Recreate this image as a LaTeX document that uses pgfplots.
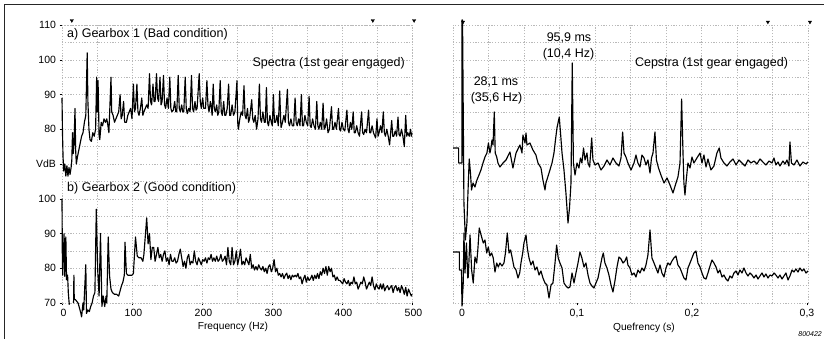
\documentclass[border=0pt]{standalone}
\usepackage{fontspec}
\setmainfont{Liberation Sans}
\usepackage{pgfplots}
\pgfplotsset{compat=1.18}

\tikzset{
  papergrid/.style={draw=gray!55, line width=0.35pt, dash pattern=on 1.2pt off 1.6pt},
}
\pgfplotsset{
  trace/.style={black, line width=1.15pt, line join=round, mark=none},
  cursor/.style={only marks, mark=triangle*, mark size=1.9pt,
                 mark options={rotate=180, fill=black, draw=black}},
  chartbase/.style={
    scale only axis, height=278pt, clip=false,
    axis line style={papergrid},
    major grid style={papergrid}, minor grid style={papergrid},
    tick align=outside, tick pos=left,
    major tick length=2.5pt, minor tick length=0pt,
    tick style={black, line width=0.4pt},
    ticklabel style={font=\fontsize{10.5}{12}\selectfont},
    /pgf/number format/assume math mode=true,
  },
}

\begin{document}
\begin{tikzpicture}[x=1pt,y=1pt]

% ---------------- Spectra ----------------
% The lower trace uses the printed scale 70..100 dB; the upper trace is
% drawn 40 dB higher so that its own scale reads 70..110 dB.
\begin{axis}[chartbase,
  at={(62pt,36pt)}, anchor=south west, width=350pt,
  xmin=0, xmax=500, ymin=70, ymax=150,
  xtick={0,100,...,500}, minor xtick={50,150,...,450},
  ytick={70,80,...,150},
  yticklabels={70,80,90,100,VdB,80,90,100,110},
  minor ytick={75,85,...,145},
  grid=both,
  xticklabel style={xshift=1.5pt},
]
% Gearbox 2 (good condition)
\addplot[trace] coordinates {
(0,100) (0.5,83) (1,78) (2,83.5) (3,90) (4,77.7) (5.5,89) (6.5,76.7) (8,78) (9,73) (10,70.5) (10.5,69.5)
};
\addplot[trace] coordinates {
(16.5,70) (17,78) (17.5,71) (19,71) (21,70.5) (23,70) (25,68.5) (27,67) (28,66) (30,70) (31,68) (34,81) (35,67)
(37,68) (39,67.5) (41,69) (43,70) (45,72) (47,73) (49,97) (51,79.5) (53,72) (55,90) (57,69) (59,72) (61,69)
(63,72) (64,70) (66,89) (68,77.7) (70,74) (72,73) (75,72.5) (78,72.5) (81,72) (85,75) (87,76) (89,78) (90,87.5)
(92,78.5) (94,78) (97,78) (100,78) (102,78.5) (105,89) (107.5,83.5) (110,83) (113,83) (115.5,82) (117,84)
(121,94.5) (123,87) (125,90) (127,82.5) (129,86) (131,86) (133,82) (135,84) (137,86) (139,83) (141,84) (143,82)
(145,84) (147,85) (149,82) (151,83) (153,81) (155,84) (157,82) (159,82) (161,83) (163,81.5) (165,82) (167,84)
(169,85.5) (171,83) (173,80.5) (175,82) (177,80) (179,83) (181,84) (183,81) (185,82) (187,81.5) (189,85) (191,82)
(193,81) (195,83) (197,82) (199,81) (201,82.5) (203,82) (205,83) (207,81.5) (209,83) (211,82.5) (213,84) (215,82)
(217,83) (219,82) (221,83.5) (223,82) (225,82.5) (227,84) (229,82) (231,82.5) (233,83.5) (235,81) (237,86) (239,82)
(241,81) (243,86) (245,81) (247,82) (249,85) (251,81) (253,83) (255,85.5) (257,81) (259,82) (261,81) (263,83)
(265,82) (267,81) (269,84) (271,80) (273,81) (275,79.5) (277,80.5) (279,79.5) (281,81) (283,80) (285,79.5)
(287,80.5) (289,79) (291,80) (293,78.5) (295,80.5) (297,81) (299,79) (301,80) (303,82.5) (305,79) (307,80) (309,78)
(311,78.5) (313,77.5) (315,78.5) (317,77) (319,78) (321,78.6) (323,77) (325,78) (327,76.7) (329,78) (331,77.5)
(333,78) (335,77.5) (337,78.5) (339,77) (341,77.5) (343,75.5) (345,77) (347,78) (349,76) (351,77.5) (353,76.5)
(355,77) (357,78) (359,76.5) (361,78) (363,77) (365,78.5) (367,77) (369,79) (371,78) (373,80) (375,78.5) (377,80.5)
(379,78) (381,80.5) (383,79) (385,80) (387,77.5) (389,78) (391,76.5) (393,77.5) (395,76.5) (397,76.5) (399,76)
(401,75.5) (403,77) (405,76) (407,75.5) (409,76.5) (411,75) (413,76) (415,75.5) (417,77.5) (419,75.5) (421,76)
(423,74) (425,75) (427,76) (429,75.5) (431,77.5) (433,76) (435,74) (437,75) (439,76) (441,75) (443,77.5) (445,75)
(447,73.8) (449,75.5) (451,74.5) (453,74) (455,75.5) (457,74) (459,75.5) (461,73.5) (463,74.5) (465,75) (467,73.8)
(469,74.5) (471,75) (473,73) (475,74.5) (477,75) (479,73.5) (481,74.5) (483,73) (485,75) (487,74) (489,72.5)
(491,74.5) (493,72) (495,74) (497,73) (499,72) (500,72.5)
};
% Gearbox 1 (bad condition)
\addplot[trace, y filter/.expression={y+40}] coordinates {
(0,89) (0.7,79) (1.5,72) (2.5,68) (4,70) (5.5,66.5) (7,69.5) (8.5,66.5) (10,69) (11.5,67) (13,69) (14,71) (15,79)
(16,73) (17,75) (18.6,86) (19.5,74) (20.5,70) (22,72) (24,74) (26,76) (28,78) (30,79) (32,82) (34,84) (36,102)
(37,88) (38.5,80) (40,77) (42,76.5) (44,79) (46,78) (48,80) (49.5,95) (50.5,85) (51.5,94) (53,78) (54,77) (56,82)
(58,81) (60,83) (62,82) (64,83) (66,80.5) (67,79) (70,95) (71,85) (73,84) (75,82) (77,83) (79,84) (81,85) (83,90)
(84.5,83) (86,84) (88,88) (89.5,82) (92,82) (94,84) (96,85) (98,86) (100,83) (102,93) (103.5,85) (105,86) (107,93)
(108.5,85) (110,84) (112,86) (114,89) (115.5,84) (117,85) (119,86) (121,87) (123,86) (125,96) (126.5,88) (128,87)
(130,93) (131.5,88) (133,88) (135,96) (136.5,89) (138,88) (140,95) (141.5,87) (143,88) (145,95.5) (146.5,87)
(148,86) (150,89) (152,86) (154,95) (155.5,86) (157,85) (159,85.5) (161,88) (162.5,85) (164,85) (166,95.5)
(167.5,86) (169,85) (171,87) (172.5,85) (174,85) (176,95) (177.5,86) (179,84.5) (181,86) (183,85) (185,95.5)
(186.5,86) (188,85) (190,88) (191.5,85.5) (193,86) (196,96) (197.5,88) (199,86) (201,89) (202.5,86) (205,86)
(207,94) (208.5,87) (210,85) (212,88) (213.5,86) (214.5,84) (216,93) (217.5,86) (219,85) (221,87) (222.5,84)
(224,85) (226,94) (227.5,85) (229,84) (231,88) (232.5,84) (234,84) (236,86) (238,93) (239.5,84) (241,84) (243,87)
(245,84) (247,85) (250,94) (251,82) (252,80) (254,83) (256,85) (258,84) (260,92.5) (261.5,84) (263,83) (265,86)
(266.5,82) (268,83) (271,88.5) (272.5,83) (274,82) (276,84) (278,80) (280,83) (282,93) (283.5,83) (285,82) (287,85)
(289,82) (290.5,82) (292,92) (293.5,82) (295,81) (297,84) (299,82) (300.5,81) (302,90) (303.5,82) (305,82) (307,84)
(309,81) (311,91) (312.5,82) (313,80.5) (315,82) (317,84) (319,82) (322,91.5) (323.5,82) (325,81) (327,83) (329,81)
(331,81) (333,89) (334.5,82) (336,81) (338,83) (340,81) (342,90) (343.5,81) (345,81) (347,84) (349,82) (351,81)
(353,89.5) (354.5,81) (356,80.5) (358,83) (360,81) (362,80) (364,88) (365.5,81) (367,80) (369,82) (371,80)
(373,87.5) (374.5,80) (376,80.5) (378,83) (380,79) (382,80) (385,86.5) (386.5,80) (388,80) (390,82) (392,80)
(395,86) (396.5,80) (398,79.5) (400,82) (402,80) (404,79.5) (407,85.5) (408.5,80) (410,79) (412,82) (414,80)
(416,85) (417.5,79) (419,79) (421,81) (423,79) (425,78) (428,85) (429.5,79) (431,78.5) (433,80) (435,79) (438,85.5)
(439.5,79) (441,79) (443,81) (445,79) (448,77.5) (450,83) (451.5,78) (453,79) (455,81) (457,79) (459,85) (460.5,79)
(462,78) (464,80) (466,78) (468,75.5) (471,82.5) (472.5,78) (474,78) (476,79.5) (478,78) (480,83.5) (481.5,78.5)
(483,78) (485,80) (487,78) (489,75) (491,84) (492.5,78) (494,79) (496,78) (498,80) (499,78) (500,79)
};
% cursor markers
\addplot[cursor] coordinates {(14,151.3) (444,151.3) (503,151.3)};
\end{axis}

% ---------------- Cepstra ----------------
% quefrency in ms, amplitude in plotter units
\begin{axis}[chartbase,
  at={(453pt,36pt)}, anchor=south west, width=355pt,
  xmin=-7.8, xmax=300.9, ymin=0, ymax=278,
  xtick={0,100,200,300}, xticklabels={0,{0,1},{0,2},{0,3}},
  minor xtick={23.1,54.0,84.8,115.7,146.6,177.4,208.3,239.2,270.0},
  ytick={17.4,34.8,52.1,69.5,86.9,104.3,121.6,139,156.4,173.8,191.1,208.5,225.9,243.3,260.6},
  yticklabels={},
  y tick style={draw=none},
  xmajorgrids=false, xminorgrids=true, ymajorgrids=true,
]
% Gearbox 1 (bad condition)
\addplot[trace] coordinates {
(-7.8,155) (-2.9,155) (-2.9,140) (0,140) (0,283) (0.5,283) (1.7,100) (3.0,63) (4.3,80) (5.2,110) (6.3,144)
(7.4,130) (8.3,113) (9.6,120) (11.3,116) (13.0,123) (14.8,128) (16.5,133) (18.3,140) (20.0,146) (21.7,150)
(23.0,160) (24.3,150) (25.2,155) (26.1,163) (27.0,158) (28.1,191) (28.9,150) (30.2,146) (31.3,140) (33.0,136)
(35.7,140) (38.3,143) (41.7,151) (43.5,140) (44.3,135) (47.0,150) (50.4,158) (52.2,150) (53.0,168) (54.8,160)
(55.7,170) (56.5,158) (59.1,160) (61.7,153) (64.3,148) (66.1,140) (68.7,135) (70.4,123) (72.2,113) (73.0,120)
(75.7,130) (78.3,140) (80.0,150) (81.3,163) (82.6,175) (84.6,186) (85.7,170) (87.0,150) (88.7,133) (90.4,110)
(92.2,80) (93.5,95) (94.8,120) (95.9,240) (96.9,140) (98.3,128) (100.0,140) (101.7,135) (103.0,145) (104.3,140)
(105.7,155) (107.0,143) (108.7,150) (109.6,140) (111.0,136) (112.8,165) (113.9,143) (115.7,138) (118.3,140)
(120.9,133) (123.5,137) (126.1,143) (128.7,138) (131.3,145) (133.9,140) (136.5,137) (138.3,145) (139.7,171)
(140.9,150) (142.6,146) (144.3,140) (147.0,133) (149.6,140) (151.3,148) (153.0,140) (154.8,136) (156.5,148)
(158.3,145) (160.0,138) (161.7,143) (163.5,130) (164.8,145) (166.1,150) (167.8,171) (169.1,143) (170.9,135)
(173.0,128) (175.7,120) (178.3,125) (180.9,118) (183.5,110) (186.1,120) (187.8,126) (189.6,140) (191.0,204)
(192.2,150) (193.0,120) (193.9,108) (195.2,125) (196.5,140) (198.3,135) (200.0,146) (201.7,140) (204.3,145)
(207.0,150) (208.7,140) (210.4,148) (212.2,136) (213.9,144) (216.5,133) (219.1,137) (221.7,150) (223.7,155)
(225.2,145) (227.8,140) (230.4,137) (233.0,141) (235.7,144) (238.3,138) (240.9,143) (243.5,140) (246.1,137)
(248.7,143) (251.3,140) (253.9,142) (256.5,139) (259.1,144) (261.7,141) (264.3,138) (267.0,142) (269.6,140)
(271.3,145) (273.0,138) (274.8,141) (276.5,137) (279.1,142) (280.9,139) (282.6,143) (284.3,137) (285.2,161)
(286.5,140) (288.7,138) (291.3,143) (293.9,137) (296.5,141) (299.1,139) (300.9,141)
};
% Gearbox 2 (good condition)
\addplot[trace] coordinates {
(-7.8,51) (-2.3,51) (-2.3,33) (-0.4,33) (0,-3) (1.1,20) (1.7,70) (2.6,30) (3.9,60) (5.0,25) (5.5,26) (7.0,68)
(8.4,33) (9.8,20) (11.3,46) (12.8,40) (13.9,55) (15.0,75) (17.1,66) (18.5,60) (20.0,63) (21.5,50) (22.9,56)
(24.3,47) (25.8,50) (27.2,45) (28.7,31) (30.2,40) (31.6,36) (33.0,40) (34.8,37) (36.5,40) (37.8,50) (39.4,70)
(40.9,50) (42.3,53) (43.7,45) (45.2,36) (47.0,33) (48.7,25) (50.2,30) (51.3,40) (52.8,50) (53.9,60) (55.7,68)
(56.8,55) (58.3,45) (60.0,38) (61.7,42) (63.5,33) (65.2,36) (67.0,28) (68.7,32) (70.4,25) (72.2,20) (73.9,18)
(75.7,5) (77.4,18) (79.1,20) (80.9,40) (82.3,58) (83.7,45) (85.2,40) (87.0,35) (88.7,20) (90.4,17) (92.2,15)
(93.9,16) (95.7,30) (97.4,20) (99.1,30) (100.9,40) (102.6,51) (104.3,45) (106.1,36) (107.8,40) (109.6,28)
(111.3,20) (113.0,17) (114.8,15) (116.5,20) (118.3,25) (120.0,35) (121.7,45) (122.9,50) (124.3,40) (126.1,35)
(127.8,28) (129.6,18) (131.3,11) (133.0,22) (134.8,36) (136.5,46) (138.3,44) (140.0,40) (141.7,42) (143.2,46)
(144.3,38) (146.1,35) (147.8,28) (149.6,30) (151.3,26) (153.0,33) (154.8,30) (156.5,35) (158.3,32) (160.0,38)
(161.7,48) (163.5,73) (165.2,45) (167.0,40) (168.7,35) (170.4,30) (172.2,38) (173.9,30) (175.7,26) (177.4,35)
(179.1,40) (180.9,38) (182.6,42) (184.3,45) (186.1,47) (187.8,38) (189.6,35) (191.3,30) (193.0,25) (194.8,23)
(196.5,35) (198.3,40) (200.0,45) (201.7,50) (203.5,52) (205.2,40) (207.0,36) (208.7,30) (210.4,25) (212.2,24)
(213.9,30) (215.7,37) (217.4,43) (219.1,40) (220.9,36) (222.6,30) (224.3,33) (226.1,26) (227.8,28) (229.6,24)
(231.3,22) (233.0,27) (234.8,25) (236.5,30) (238.3,32) (240.0,28) (241.7,33) (243.5,30) (245.2,35) (247.0,30)
(248.7,27) (250.4,30) (252.2,28) (253.9,25) (255.7,28) (257.4,24) (259.1,27) (260.9,30) (262.6,26) (264.3,29)
(266.1,25) (267.8,28) (269.6,27) (271.3,30) (273.0,28) (274.8,25) (276.5,28) (278.3,24) (280.0,27) (281.7,30)
(283.5,23) (285.2,27) (287.0,33) (288.7,31) (290.4,34) (292.2,31) (293.9,35) (295.7,32) (297.4,34) (299.1,30)
(300.9,32)
};
% cursor markers
\addplot[cursor] coordinates {(0.9,281) (266,281) (302.6,281)};
\end{axis}

% ---------------- annotations ----------------
\begin{scope}[every node/.style={inner sep=0pt, font=\fontsize{12.5}{14}\selectfont}]
\node[anchor=west] at (67,305) {a) Gearbox 1 (Bad condition)};
\node[anchor=east] at (405,275.5) {Spectra (1st gear engaged)};
\node[anchor=west] at (67,150.5) {b) Gearbox 2 (Good condition)};
\node at (569,301.5) {95,9 ms};
\node at (568.5,284.5) {(10,4 Hz)};
\node at (496,257.5) {28,1 ms};
\node at (496.5,241) {(35,6 Hz)};
\node at (711.5,276) {Cepstra (1st gear engaged)};
\end{scope}
\node[inner sep=0pt, font=\fontsize{10.2}{12}\selectfont] at (233,12) {Frequency (Hz)};
\node[inner sep=0pt, font=\fontsize{10.2}{12}\selectfont] at (644,11) {Quefrency (s)};
\node[inner sep=0pt, anchor=east, font=\fontsize{7}{8}\selectfont\itshape] at (822,5) {800422};

% page frame
\draw[black!85, line width=0.9pt] (4,0) -- (4,334.5) -- (824,334.5);

\pgfresetboundingbox
\path (0,0) rectangle (824,339);
\end{tikzpicture}
\end{document}
